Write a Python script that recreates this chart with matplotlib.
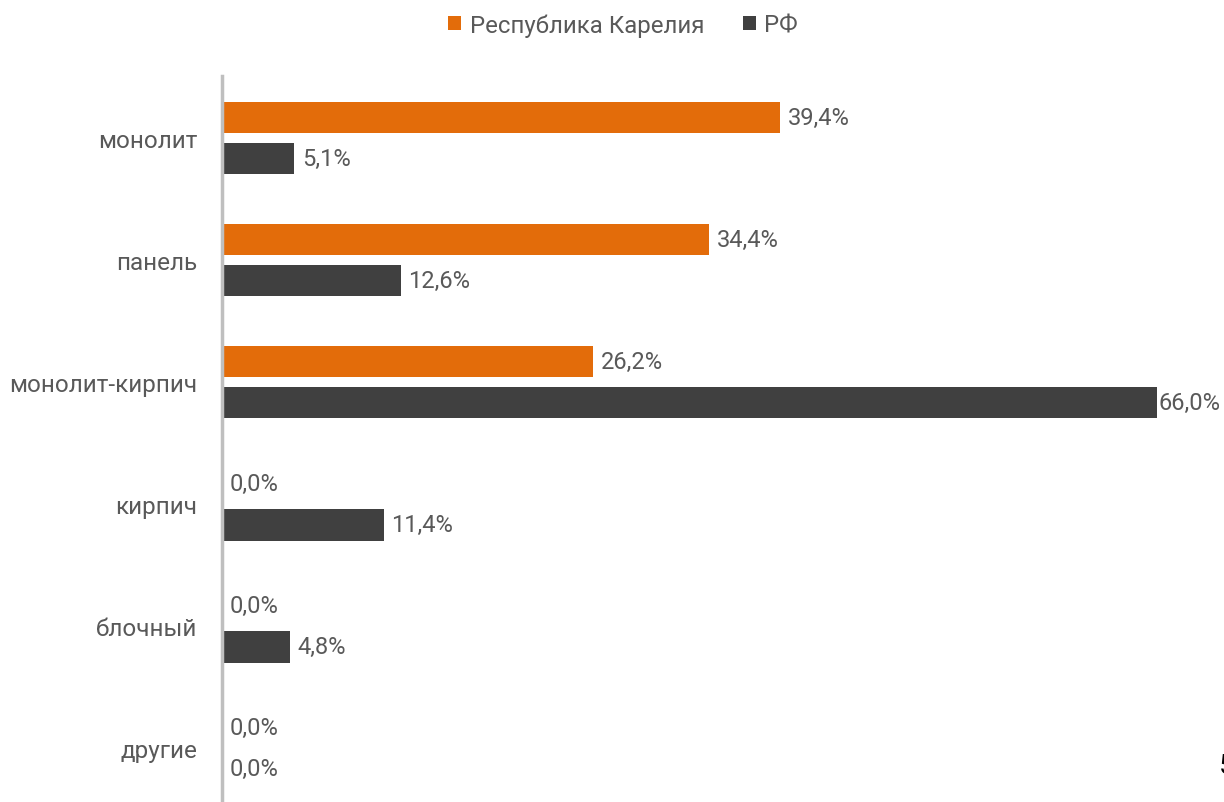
import numpy as np
import matplotlib.pyplot as plt

plt.rcParams['font.family'] = ['Roboto', 'DejaVu Sans']

categories = ['монолит', 'панель', 'монолит-кирпич', 'кирпич', 'блочный', 'другие']
karelia = [39.4, 34.4, 26.2, 0.0, 0.0, 0.0]
rf = [5.1, 12.6, 66.0, 11.4, 4.8, 0.0]
series_names = ['Республика Карелия', 'РФ']

orange = '#E36C0A'
dark = '#404040'
text_col = '#595959'

W, H = 1224, 803
fig = plt.figure(figsize=(W / 100, H / 100), dpi=100)
ax = fig.add_axes([222 / W, 0, (1157 - 222) / W, (803 - 77) / H])

y = np.arange(len(categories))
h = 0.26
off = 0.168
b1 = ax.barh(y - off, karelia, height=h, color=orange, label=series_names[0])
b2 = ax.barh(y + off, rf, height=h, color=dark, label=series_names[1])

vmax = max(karelia + rf)
ax.set_xlim(0, vmax)
ax.set_ylim(5.44, -0.508)

def fmt(v):
    return f'{v:.1f}'.replace('.', ',') + '%'

for bars, vals in ((b1, karelia), (b2, rf)):
    for rect, v in zip(bars, vals):
        # the longest bar's label is pushed closer so it fits in the figure
        dx = 1.0 if v == vmax else 5.5
        ax.annotate(fmt(v), (v, rect.get_y() + rect.get_height() / 2),
                    xytext=(dx, 0), textcoords='offset points',
                    va='center', ha='left', fontsize=17, color=text_col,
                    annotation_clip=False)

ax.set_yticks(y)
ax.set_yticklabels(categories, fontsize=17.5, color=text_col)
ax.tick_params(axis='y', length=0, pad=18)
ax.set_xticks([])
for s in ['top', 'right', 'bottom']:
    ax.spines[s].set_visible(False)
ax.spines['left'].set_color('#BFBFBF')
ax.spines['left'].set_linewidth(2.5)

fig.legend(handles=[b1, b2], labels=series_names, loc='center',
           bbox_to_anchor=(623 / W, 1 - 26 / H), ncol=2, frameon=False,
           fontsize=17.3, labelcolor=text_col, handlelength=0.55,
           handleheight=0.55, handletextpad=0.35, columnspacing=1.6)

# clipped page number at the right edge
fig.text(1219 / W, 1 - 774 / H, '5', fontsize=20, color='black',
         ha='left', va='baseline')

fig.savefig('out.png', dpi=100)
